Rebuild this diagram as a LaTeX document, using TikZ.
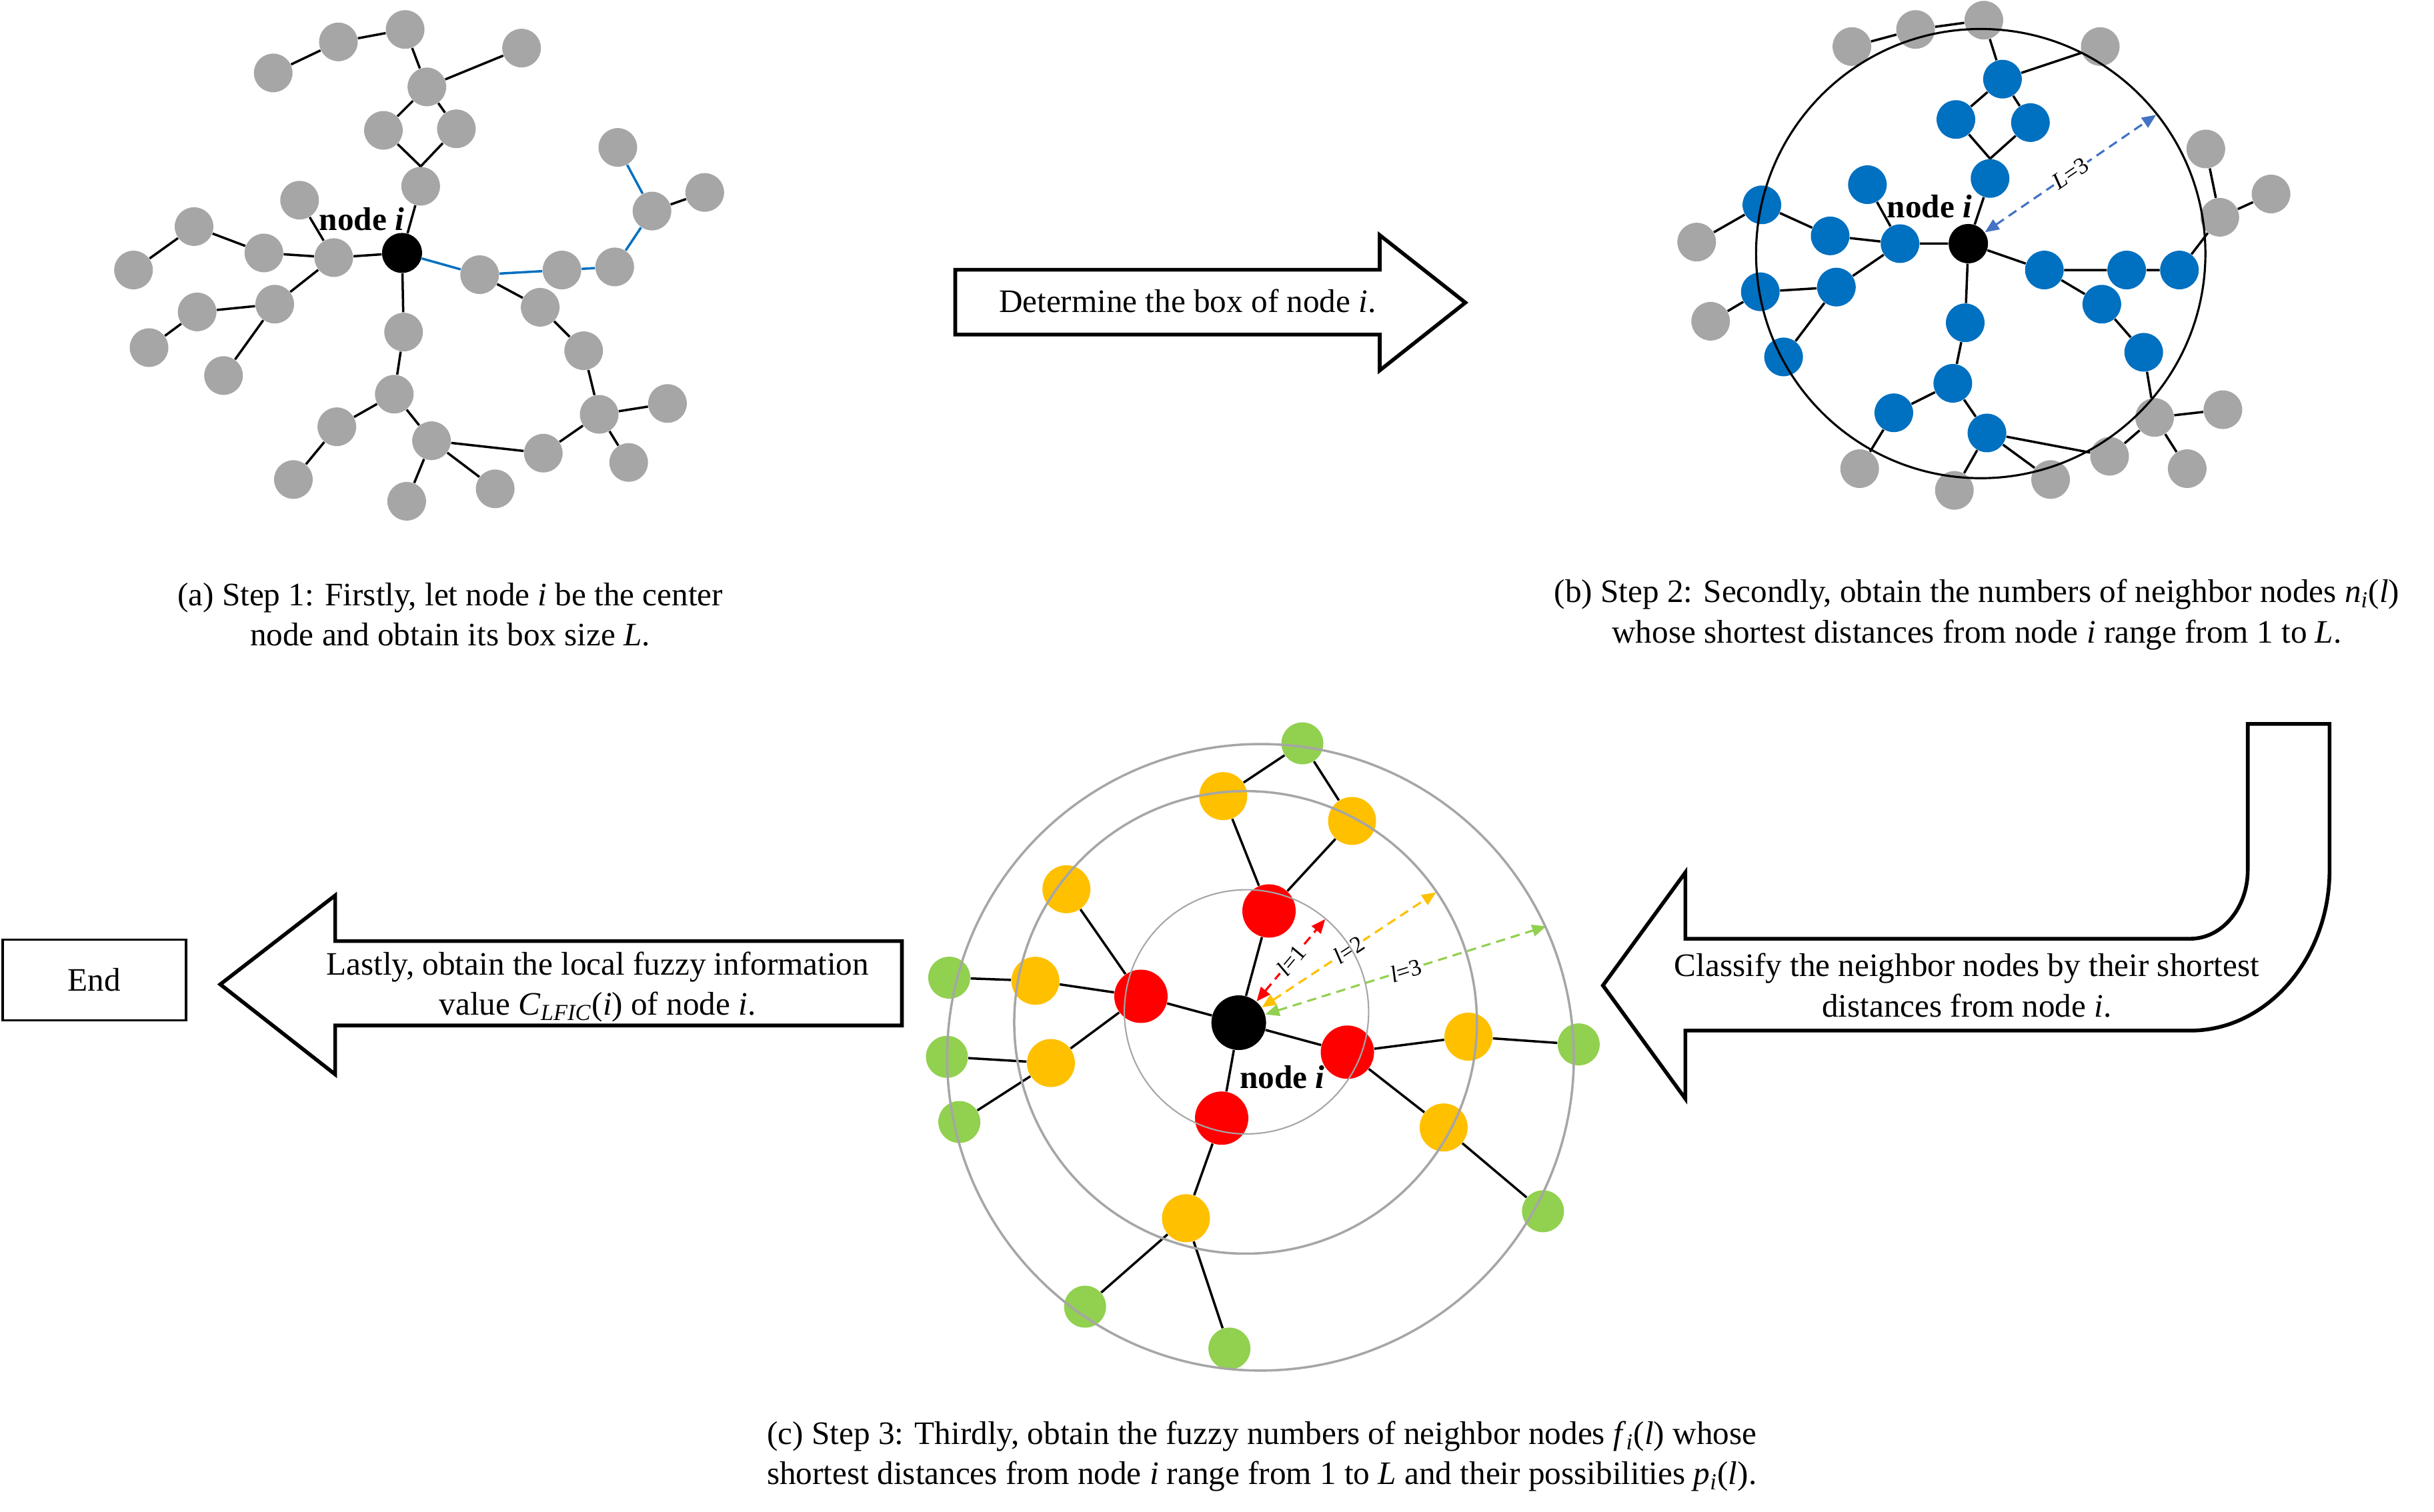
\documentclass[tikz,border=0pt]{standalone}
\usepackage{fontspec}
\setmainfont{Liberation Serif}
\usepackage{tikz}
\usetikzlibrary{arrows.meta, positioning, calc}
\definecolor{nodegray}{RGB}{166,166,166}
\definecolor{nodeblue}{RGB}{0,112,192}
\definecolor{dashblue}{RGB}{68,114,196}
\definecolor{lvlred}{RGB}{255,0,0}
\definecolor{lvlorange}{RGB}{255,192,0}
\definecolor{lvlgreen}{RGB}{146,208,80}

\begin{document}
\begin{tikzpicture}[x=0.02328cm, y=-0.02328cm, font=\fontsize{14}{17.2}\selectfont,
    vtx/.style={circle, inner sep=0pt, minimum size=0.58cm},
    graynode/.style={vtx, fill=nodegray},
    bluenode/.style={vtx, fill=nodeblue},
    centernode/.style={vtx, fill=black, minimum size=0.6cm},
    rednode/.style={vtx, fill=lvlred, minimum size=0.8cm},
    orangenode/.style={vtx, fill=lvlorange, minimum size=0.72cm},
    greennode/.style={vtx, fill=lvlgreen, minimum size=0.63cm},
    link/.style={line width=1pt},
    bluelink/.style={line width=1pt, draw=nodeblue},
    ring/.style={draw=nodegray, line width=1pt},
    blockarrow/.style={draw, line width=1.6pt, fill=white, line join=miter},
    captext/.style={align=center},
    nodelabel/.style={font=\fontsize{14}{17}\selectfont\bfseries},
    distarrow/.style={dash pattern=on 4pt off 2.5pt, line width=0.9pt,
                      {Triangle[length=6pt,width=5pt]}-{Triangle[length=6pt,width=5pt]}},
    distlabel/.style={font=\fontsize{10}{12}\selectfont, sloped, fill=white, inner sep=0.5pt}]

\useasboundingbox (0,0) rectangle (1568,974);

% (a) step 1
\node (ia)  [centernode] at (259,163) {};
\node (a1)  [graynode] at (176,47) {};
\node (a2)  [graynode] at (218,27) {};
\node (a3)  [graynode] at (261,19) {};
\node (a4)  [graynode] at (336,31) {};
\node (a5)  [graynode] at (275,56) {};
\node (a6)  [graynode] at (247,84) {};
\node (a7)  [graynode] at (294,83) {};
\node (a8)  [graynode] at (271,120) {};
\node (a9)  [graynode] at (193,129) {};
\node (a10) [graynode] at (125,146) {};
\node (a11) [graynode] at (170,163) {};
\node (a12) [graynode] at (86,174) {};
\node (a13) [graynode] at (215,166) {};
\node (a14) [graynode] at (127,201) {};
\node (a15) [graynode] at (177,196) {};
\node (a16) [graynode] at (96,224) {};
\node (a17) [graynode] at (144,242) {};
\node (a18) [graynode] at (260,214) {};
\node (a19) [graynode] at (254,254) {};
\node (a20) [graynode] at (217,275) {};
\node (a21) [graynode] at (189,309) {};
\node (a22) [graynode] at (278,284) {};
\node (a23) [graynode] at (262,323) {};
\node (a24) [graynode] at (319,315) {};
\node (a25) [graynode] at (350,292) {};
\node (a26) [graynode] at (386,267) {};
\node (a27) [graynode] at (430,260) {};
\node (a28) [graynode] at (405,298) {};
\node (a29) [graynode] at (376,226) {};
\node (a30) [graynode] at (348,198) {};
\node (a31) [graynode] at (309,177) {};
\node (a32) [graynode] at (362,174) {};
\node (a33) [graynode] at (396,172) {};
\node (a34) [graynode] at (420,136) {};
\node (a35) [graynode] at (454,124) {};
\node (a36) [graynode] at (398,95) {};
\node (lbla) [nodelabel] at (233,141) {node \textit{i}};

\draw [link] (a1) -- (a2) -- (a3) -- (a5) -- (a4);
\draw [link] (a5) -- (a6) -- (a8.north) (a5) -- (a7) -- (a8.north) (a8) -- (ia);
\draw [link] (a12) -- (a10) -- (a11) -- (a13) -- (ia) (a9) -- (a13);
\draw [link] (a13) -- (a15) -- (a14) -- (a16) (a15) -- (a17);
\draw [link] (ia) -- (a18) -- (a19) -- (a20) -- (a21);
\draw [link] (a19) -- (a22) -- (a23) (a22) -- (a24) (a22) -- (a25) -- (a26) -- (a27);
\draw [link] (a26) -- (a28) (a26) -- (a29) -- (a30) -- (a31) (a34) -- (a35);
\draw [bluelink] (ia) -- (a31) -- (a32) -- (a33) -- (a34) -- (a36);

\node (capa) [captext] at (290,396) {(a) Step 1: Firstly, let node \textit{i} be the center\\node and obtain its box size \textit{L}.};

% (b) step 2
\node (ib)  [centernode, minimum size=0.59cm] at (1268,157) {};
\node (b1)  [bluenode] at (1290,51) {};
\node (b2)  [bluenode] at (1260,77) {};
\node (b3)  [bluenode] at (1308,79) {};
\node (b4)  [bluenode] at (1282,115) {};
\node (b5)  [bluenode] at (1203,119) {};
\node (b6)  [bluenode] at (1135,132) {};
\node (b7)  [bluenode] at (1179,152) {};
\node (b8)  [bluenode] at (1224,157) {};
\node (b9)  [bluenode] at (1134,188) {};
\node (b10) [bluenode] at (1183,185) {};
\node (b11) [bluenode] at (1149,230) {};
\node (b12) [bluenode] at (1266,208) {};
\node (b13) [bluenode] at (1258,247) {};
\node (b14) [bluenode] at (1220,266) {};
\node (b15) [bluenode] at (1280,279) {};
\node (b16) [bluenode] at (1317,174) {};
\node (b17) [bluenode] at (1370,174) {};
\node (b18) [bluenode] at (1404,174) {};
\node (b19) [bluenode] at (1354,196) {};
\node (b20) [bluenode] at (1381,227) {};
\node (g1)  [graynode] at (1193,30) {};
\node (g2)  [graynode] at (1234,19) {};
\node (g3)  [graynode] at (1278,13) {};
\node (g4)  [graynode] at (1353,30) {};
\node (g5)  [graynode] at (1421,96) {};
\node (g6)  [graynode] at (1463,125) {};
\node (g7)  [graynode] at (1430,140) {};
\node (g8)  [graynode] at (1093,156) {};
\node (g9)  [graynode] at (1102,207) {};
\node (g10) [graynode] at (1388,269) {};
\node (g11) [graynode] at (1432,264) {};
\node (g12) [graynode] at (1409,302) {};
\node (g13) [graynode] at (1359,294) {};
\node (g14) [graynode] at (1321,309) {};
\node (g15) [graynode] at (1259,316) {};
\node (g16) [graynode] at (1198,302) {};
\node (lblb) [nodelabel] at (1243,133) {node \textit{i}};

\draw [link] (g1) -- (g2) -- (g3) -- (b1) -- (g4) (b1) -- (b2) -- (b4.north) (b1) -- (b3) -- (b4.north);
\draw [link] (b4) -- (ib) (b5) -- (b8) (g8) -- (b6) -- (b7) -- (b8) -- (ib);
\draw [link] (b8) -- (b10) -- (b9) -- (g9) (b10) -- (b11);
\draw [link] (ib) -- (b12) -- (b13) -- (b14) -- (g16) (b13) -- (b15) -- (g15);
\draw [link] (b15) -- (g14) (b15) -- (g13);
\draw [link] (ib) -- (b16) -- (b17) -- (b18) -- (g7) -- (g5) (g7) -- (g6);
\draw [link] (b16) -- (b19) -- (b20) -- (g10) -- (g11) (g10) -- (g12) (g10) -- (g13);
\draw [line width=0.9pt] (1276,163.4) circle [radius=3.37cm];
\coordinate (boxend) at (1389,74);
\draw [distarrow, dashblue] (ib) -- node[distlabel, text=black] {\textit{L}=3} (boxend);

\node (capb) [captext] at (1273.5,396) {(b) Step 2: Secondly, obtain the numbers of neighbor nodes \textit{n}\textsubscript{\textit{i}}(\textit{l})\\whose shortest distances from node \textit{i} range from 1 to \textit{L}.};

% (c) step 3
\node (ic) [centernode, minimum size=0.82cm] at (798,659) {};
\node (r1) [rednode] at (817.5,587) {};
\node (r2) [rednode] at (735,642) {};
\node (r3) [rednode] at (868,678) {};
\node (r4) [rednode] at (787,720.5) {};
\node (o1) [orangenode] at (788,513) {};
\node (o2) [orangenode] at (871,529) {};
\node (o3) [orangenode] at (687,573) {};
\node (o4) [orangenode] at (667,632) {};
\node (o5) [orangenode] at (677,685) {};
\node (o6) [orangenode] at (946,668) {};
\node (o7) [orangenode] at (930,726.5) {};
\node (o8) [orangenode] at (764,785) {};
\node (e1) [greennode] at (839,479) {};
\node (e2) [greennode] at (611.5,630) {};
\node (e3) [greennode] at (610,681) {};
\node (e4) [greennode] at (618,723) {};
\node (e5) [greennode] at (1017,673) {};
\node (e6) [greennode] at (994,780.5) {};
\node (e7) [greennode] at (699,842) {};
\node (e8) [greennode] at (792,869) {};
\node (lblc) [nodelabel] at (826,694) {node \textit{i}};

\draw [link] (ic) -- (r1) (ic) -- (r2) (ic) -- (r3) (ic) -- (r4);
\draw [link] (r1) -- (o1) -- (e1) -- (o2) -- (r1);
\draw [link] (r2) -- (o3) (r2) -- (o4) -- (e2) (r2) -- (o5) -- (e3) (o5) -- (e4);
\draw [link] (r3) -- (o6) -- (e5) (r3) -- (o7) -- (e6);
\draw [link] (r4) -- (o8) -- (e7) (o8) -- (e8);

\coordinate (lvl1) at (853.7,592.3);
\coordinate (lvl2) at (925.1,575);
\coordinate (lvl3) at (996.1,596.9);
\draw [distarrow, lvlred] (ic) -- node[distlabel, text=black] {\textit{l}=1} (lvl1);
\draw [distarrow, lvlorange] (ic) -- node[distlabel, text=black] {\textit{l}=2} (lvl2);
\draw [distarrow, lvlgreen] (ic) -- node[distlabel, text=black] {\textit{l}=3} (lvl3);

\draw [ring, line width=0.6pt] (803,652) circle [radius=1.832cm];
\draw [ring] (802.4,658.8) circle [radius=3.47cm];
\draw [ring] (812,681.3) circle [radius=4.70cm];

\node (capc) [align=right, anchor=east] at (1137,938.5) {(c) Step 3: Thirdly, obtain the fuzzy numbers of neighbor nodes \textit{f}\textsubscript{\textit{i}}(\textit{l}) whose\\shortest distances from node \textit{i} range from 1 to \textit{L} and their possibilities \textit{p}\textsubscript{\textit{i}}(\textit{l}).};

% block arrows between the steps
\draw [blockarrow] (615.4,173.8) -- (888.8,173.8) -- (888.8,151.5) -- (944,195)
    -- (888.8,238.7) -- (888.8,215.6) -- (615.4,215.6) -- cycle;
\node (txtbox) at (765,194) {Determine the box of node \textit{i}.};

\draw [blockarrow] (1032.6,635) -- (1085.7,562.2) -- (1085.7,604.9) -- (1411,604.9)
    .. controls (1431.4,604.9) and (1448,585) .. (1448,560.8) -- (1448,466.5)
    -- (1500.7,466.5) -- (1500.7,560.8)
    .. controls (1500.7,617.6) and (1460.3,664.1) .. (1411,664.1)
    -- (1085.7,664.1) -- (1085.7,708) -- cycle;
\node (txtclass) [captext] at (1267,635) {Classify the neighbor nodes by their shortest\\distances from node \textit{i}.};

\draw [blockarrow] (581,606.4) -- (215.9,606.4) -- (215.9,577) -- (141.9,634.3)
    -- (215.9,692.3) -- (215.9,660.8) -- (581,660.8) -- cycle;
\node (txtlast) [captext] at (385,636) {Lastly, obtain the local fuzzy information\\value \textit{C}\textsubscript{\textit{LFIC}}(\textit{i}) of node \textit{i}.};

\node (endbox) [draw, line width=1pt, minimum width=2.75cm, minimum height=1.21cm] at (60.8,631.5) {End};
\end{tikzpicture}
\end{document}
